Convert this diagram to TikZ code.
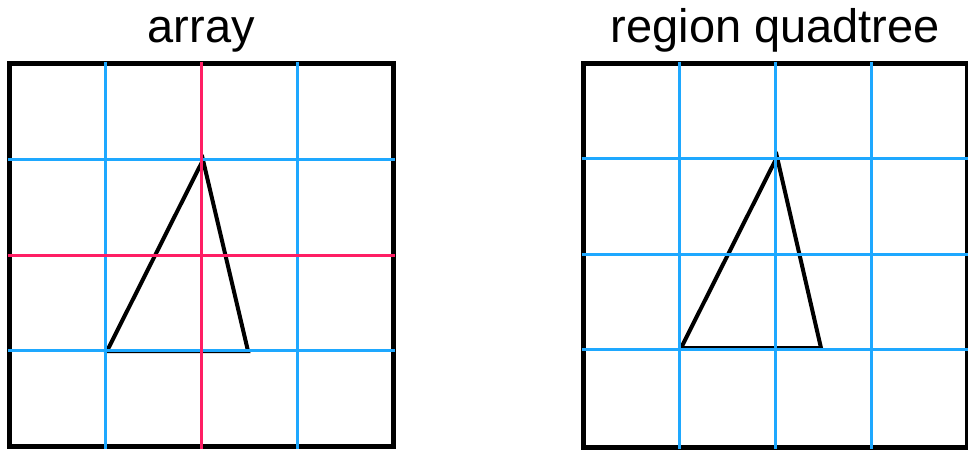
\documentclass[tikz,border=0pt]{standalone}
\usepackage{fontspec}
\setmainfont{Liberation Sans}
\definecolor{gridblue}{RGB}{30,168,255}
\definecolor{gridred}{RGB}{255,30,100}
\begin{document}
\begin{tikzpicture}[x=1pt,y=-1pt,
  frame/.style={draw=black,line width=5pt},
  gline/.style={draw=gridblue,line width=3pt},
  rline/.style={draw=gridred,line width=3pt},
  tri/.style={draw=black,line width=4pt,line join=miter},
  title/.style={anchor=base,inner sep=0pt,font=\fontsize{47}{50}\selectfont}]
\useasboundingbox (0,0) rectangle (968,455);
% titles
\node[title] (tarray) at (201.2,42) {array};
\node[title] (tquad) at (775.3,42) {region quadtree};
% left: array
\draw[frame] (9.5,63.5) rectangle (393,446.5);
\draw[tri] (203,160) -- (107,351) -- (248,351) -- cycle;
\foreach \x in {105.4,297.1} \draw[gline] (\x,61.5) -- (\x,448.5);
\foreach \y in {159.2,350.9} \draw[gline] (7.5,\y) -- (395,\y);
\draw[rline] (201.2,61.5) -- (201.2,448.5);
\draw[rline] (7.5,255) -- (395,255);
% right: region quadtree
\draw[frame] (583.5,63.5) rectangle (967,447);
\draw[tri] (777,157) -- (681,348) -- (821,348) -- cycle;
\foreach \x in {679.4,775.3,871.2} \draw[gline] (\x,61.5) -- (\x,449);
\foreach \y in {158.3,254.2,349.8} \draw[gline] (581.5,\y) -- (969,\y);
\end{tikzpicture}
\end{document}
